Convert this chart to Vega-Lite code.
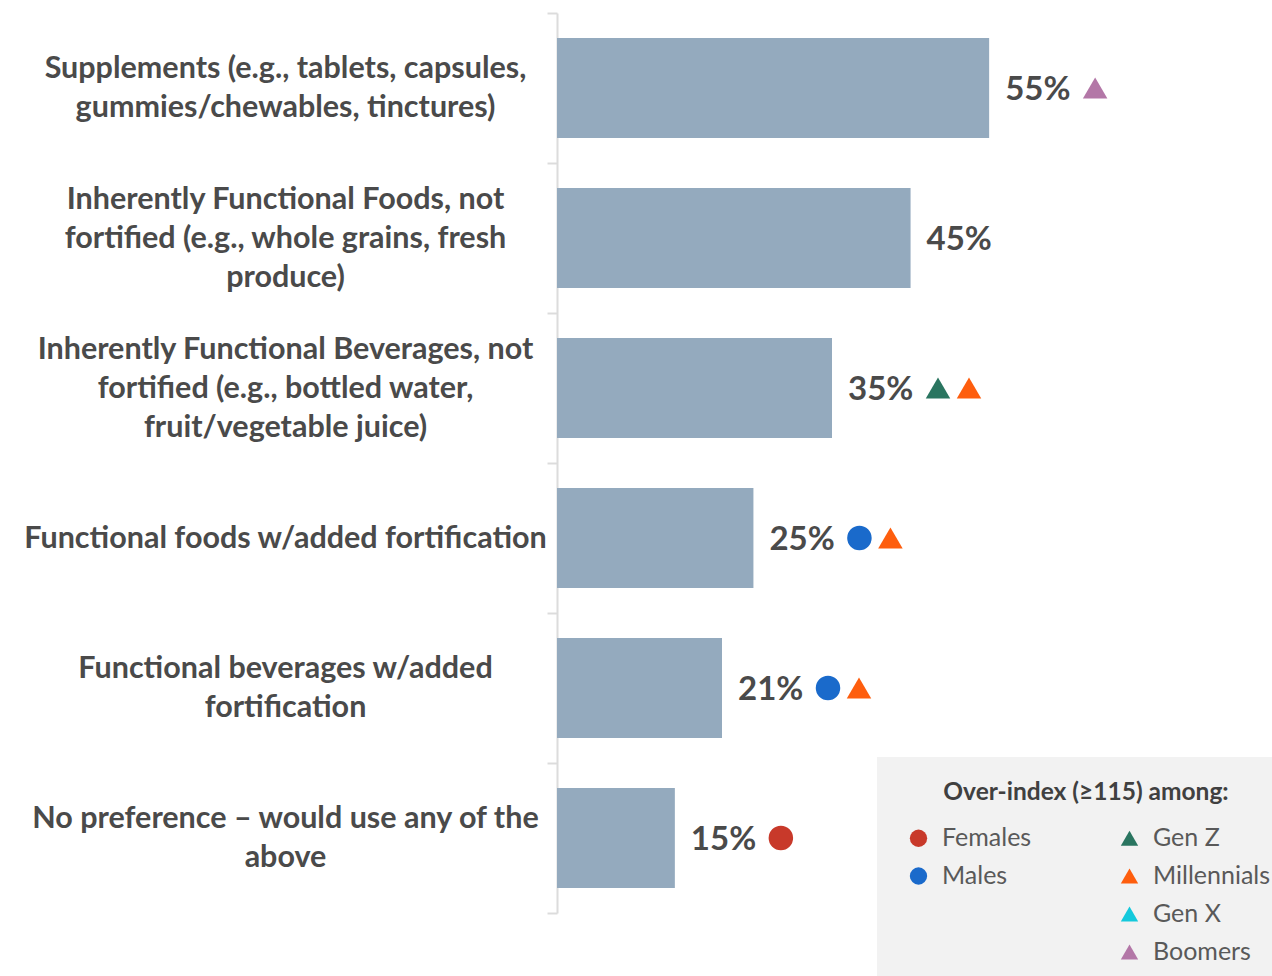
{
  "$schema": "https://vega.github.io/schema/vega-lite/v6.json",
  "autosize": {"type": "none"},
  "width": 715,
  "height": 900,
  "padding": {"left": 557, "top": 13, "right": 0, "bottom": 63},
  "background": "white",
  "config": {"view": {"stroke": null}, "font": "Lato"},
  "datasets": {
    "bars": [
      {"cat": "Supplements (e.g., tablets, capsules,|gummies/chewables, tinctures)", "value": 55},
      {"cat": "Inherently Functional Foods, not|fortified (e.g., whole grains, fresh|produce)", "value": 45},
      {"cat": "Inherently Functional Beverages, not|fortified (e.g., bottled water,|fruit/vegetable juice)", "value": 35},
      {"cat": "Functional foods w/added fortification", "value": 25},
      {"cat": "Functional beverages w/added|fortification", "value": 21},
      {"cat": "No preference – would use any of the|above", "value": 15}
    ],
    "markers": [
      {"cat": "Supplements (e.g., tablets, capsules,|gummies/chewables, tinctures)", "value": 55, "group": "Boomers", "slot": 0},
      {"cat": "Inherently Functional Beverages, not|fortified (e.g., bottled water,|fruit/vegetable juice)", "value": 35, "group": "Gen Z", "slot": 0},
      {"cat": "Inherently Functional Beverages, not|fortified (e.g., bottled water,|fruit/vegetable juice)", "value": 35, "group": "Millennials", "slot": 1},
      {"cat": "Functional foods w/added fortification", "value": 25, "group": "Males", "slot": 0},
      {"cat": "Functional foods w/added fortification", "value": 25, "group": "Millennials", "slot": 1},
      {"cat": "Functional beverages w/added|fortification", "value": 21, "group": "Males", "slot": 0},
      {"cat": "Functional beverages w/added|fortification", "value": 21, "group": "Millennials", "slot": 1},
      {"cat": "No preference – would use any of the|above", "value": 15, "group": "Females", "slot": 0}
    ]
  },
  "encoding": {
    "y": {
      "field": "cat",
      "type": "nominal",
      "sort": null,
      "scale": {"paddingInner": 0, "paddingOuter": 0},
      "axis": {
        "title": null,
        "labelExpr": "split(datum.label, '|')",
        "labelFont": "Lato",
        "labelFontSize": 30.5,
        "labelFontWeight": "bold",
        "labelColor": "#4a4a4a",
        "labelLineHeight": 39,
        "labelAlign": "center",
        "labelBaseline": "middle",
        "labelOffset": {
          "condition": [
            {"test": "length(split(datum.value, '|')) == 3", "value": -39},
            {"test": "length(split(datum.value, '|')) == 2", "value": -19.5}
          ],
          "value": 0
        },
        "labelPadding": 262,
        "labelLimit": 0,
        "labelOverlap": false,
        "labelBound": false,
        "tickBand": "extent",
        "tickSize": 10,
        "tickColor": "#dcdcdc",
        "tickWidth": 2,
        "domainColor": "#dcdcdc",
        "domainWidth": 2,
        "encode": {
          "labels": {
            "dx": {"signal": "indexof(datum.value, 'Supplements') == 0 ? -1 : indexof(datum.value, 'Inherently Functional Foods') == 0 ? 20 : indexof(datum.value, 'Inherently Functional Beverages') == 0 ? -3 : indexof(datum.value, 'Functional foods') == 0 ? -16 : indexof(datum.value, 'Functional beverages') == 0 ? 36 : -14"}
          }
        }
      }
    },
    "x": {
      "field": "value",
      "type": "quantitative",
      "scale": {"domain": [0, 91]},
      "axis": null
    }
  },
  "layer": [
    {
      "data": {"name": "bars"},
      "mark": {"type": "bar", "color": "#94aabe", "size": 100}
    },
    {
      "data": {"name": "bars"},
      "transform": [{"calculate": "datum.value + '%'", "as": "label"}],
      "mark": {"type": "text", "align": "left", "baseline": "middle", "dx": 16, "dy": 2, "font": "Lato", "fontSize": 33, "fontWeight": "bold", "color": "#4a4a4a"},
      "encoding": {"text": {"field": "label"}}
    },
    {
      "data": {"name": "markers"},
      "mark": {"type": "point", "filled": true, "opacity": 1, "size": 600, "strokeWidth": 0, "xOffset": {"expr": "106 + 31 * datum.slot"}},
      "encoding": {
        "color": {
          "field": "group",
          "type": "nominal",
          "scale": {
            "domain": ["Females", "Males", " ", "  ", "Gen Z", "Millennials", "Gen X", "Boomers"],
            "range": ["#c8392a", "#1a6acb", "rgba(0,0,0,0)", "rgba(0,0,0,0)", "#2a7560", "#fe5e0e", "#14c9dc", "#b377a7"]
          },
          "legend": {
            "title": "Over-index (≥115) among:",
            "orient": "none",
            "legendX": 320,
            "legendY": 744,
            "columns": 2,
            "fillColor": "#f2f2f2",
            "padding": 24,
            "titleFont": "Lato",
            "titleFontSize": 24.5,
            "titleFontWeight": "bold",
            "titleColor": "#404040",
            "titleAnchor": "middle",
            "titleLimit": 0,
            "titlePadding": 20,
            "labelFont": "Lato",
            "labelFontSize": 25,
            "labelColor": "#595959",
            "labelOffset": 11,
            "labelLimit": 0,
            "symbolSize": 300,
            "symbolStrokeWidth": 0,
            "symbolOffset": 5,
            "rowPadding": 12,
            "columnPadding": 80,
            "gridAlign": "each"
          }
        },
        "shape": {
          "field": "group",
          "type": "nominal",
          "scale": {
            "domain": ["Females", "Males", " ", "  ", "Gen Z", "Millennials", "Gen X", "Boomers"],
            "range": ["circle", "circle", "circle", "circle", "triangle-up", "triangle-up", "triangle-up", "triangle-up"]
          },
          "legend": {
            "title": "Over-index (≥115) among:"
          }
        }
      }
    }
  ]
}
